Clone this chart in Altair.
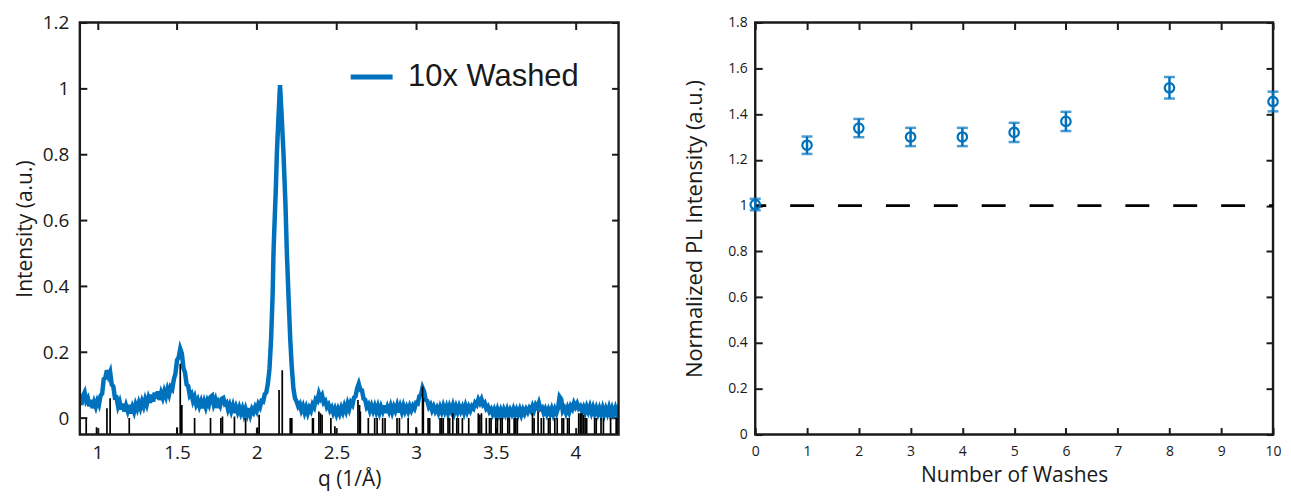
import altair as alt
import pandas as pd

BLUE = "#0072BD"
INK = "#1a1a1a"
FONT = "Open Sans"

# ---------------- Left panel: XRD pattern ----------------
q = [0.89, 0.90, 0.91, 0.92, 0.93, 0.94, 0.95, 0.96, 0.97, 0.98,
     0.99, 1.00, 1.01, 1.02, 1.03, 1.04, 1.05, 1.06, 1.07, 1.08,
     1.09, 1.10, 1.11, 1.12, 1.13, 1.14, 1.15, 1.16, 1.17, 1.18,
     1.19, 1.20, 1.21, 1.22, 1.23, 1.24, 1.25, 1.26, 1.27, 1.28,
     1.29, 1.30, 1.31, 1.32, 1.33, 1.34, 1.35, 1.36, 1.37, 1.38,
     1.39, 1.40, 1.41, 1.42, 1.43, 1.44, 1.45, 1.46, 1.47, 1.48,
     1.49, 1.50, 1.51, 1.52, 1.53, 1.54, 1.55, 1.56, 1.57, 1.58,
     1.59, 1.60, 1.61, 1.62, 1.63, 1.64, 1.65, 1.66, 1.67, 1.68,
     1.69, 1.70, 1.71, 1.72, 1.73, 1.74, 1.75, 1.76, 1.77, 1.78,
     1.79, 1.80, 1.81, 1.82, 1.83, 1.84, 1.85, 1.86, 1.87, 1.88,
     1.89, 1.90, 1.91, 1.92, 1.93, 1.94, 1.95, 1.96, 1.97, 1.98,
     1.99, 2.00, 2.01, 2.02, 2.03, 2.04, 2.05, 2.06,
     2.07, 2.08, 2.09, 2.10, 2.105, 2.11, 2.12, 2.126, 2.135, 2.146,
     2.155, 2.168, 2.18, 2.189, 2.20, 2.21, 2.219, 2.23, 2.24,
     2.25, 2.26, 2.27, 2.28, 2.29, 2.30, 2.31, 2.32, 2.33, 2.34,
     2.35, 2.36, 2.37, 2.38, 2.39, 2.40, 2.41, 2.42, 2.43, 2.44,
     2.45, 2.46, 2.47, 2.48, 2.49, 2.50, 2.51, 2.52, 2.53, 2.54,
     2.55, 2.56, 2.57, 2.58, 2.59, 2.60, 2.61, 2.62, 2.63, 2.64,
     2.65, 2.66, 2.67, 2.68, 2.69, 2.70, 2.71, 2.72, 2.73, 2.74,
     2.75, 2.76, 2.77, 2.78, 2.79, 2.80, 2.81, 2.82, 2.83, 2.84,
     2.85, 2.86, 2.87, 2.88, 2.89, 2.90, 2.91, 2.92, 2.93, 2.94,
     2.95, 2.96, 2.97, 2.98, 2.99, 3.00, 3.01, 3.02, 3.03, 3.04,
     3.05, 3.06, 3.07, 3.08, 3.09, 3.10, 3.11, 3.12, 3.13, 3.14,
     3.15, 3.16, 3.17, 3.18, 3.19, 3.20, 3.21, 3.22, 3.23, 3.24,
     3.25, 3.26, 3.27, 3.28, 3.29, 3.30, 3.31, 3.32, 3.33, 3.34,
     3.35, 3.36, 3.37, 3.38, 3.39, 3.40, 3.41, 3.42, 3.43, 3.44,
     3.45, 3.46, 3.47, 3.48, 3.49, 3.50, 3.51, 3.52, 3.53, 3.54,
     3.55, 3.56, 3.57, 3.58, 3.59, 3.60, 3.61, 3.62, 3.63, 3.64,
     3.65, 3.66, 3.67, 3.68, 3.69, 3.70, 3.71, 3.72, 3.73, 3.74,
     3.75, 3.76, 3.77, 3.78, 3.79, 3.80, 3.81, 3.82, 3.83, 3.84,
     3.85, 3.86, 3.87, 3.88, 3.89, 3.90, 3.91, 3.92, 3.93, 3.94,
     3.95, 3.96, 3.97, 3.98, 3.99, 4.00, 4.01, 4.02, 4.03, 4.04,
     4.05, 4.06, 4.07, 4.08, 4.09, 4.10, 4.11, 4.12, 4.13, 4.14,
     4.15, 4.16, 4.17, 4.18, 4.19, 4.20, 4.21, 4.22, 4.23, 4.24,
     4.25, 4.26, 4.27, 4.28]

intensity = [0.058, 0.040, 0.068, 0.078, 0.052, 0.060, 0.036, 0.055, 0.030, 0.048,
             0.034, 0.052, 0.041, 0.068, 0.074, 0.118, 0.122, 0.145, 0.128, 0.140,
             0.102, 0.096, 0.062, 0.063, 0.036, 0.049, 0.026, 0.044, 0.020, 0.038,
             0.022, 0.040, 0.014, 0.033, 0.019, 0.041, 0.028, 0.046, 0.031, 0.050,
             0.036, 0.056, 0.041, 0.061, 0.046, 0.071, 0.050, 0.077, 0.060, 0.081,
             0.055, 0.076, 0.062, 0.081, 0.066, 0.087, 0.072, 0.094, 0.088, 0.118,
             0.135, 0.176, 0.184, 0.210, 0.196, 0.152, 0.138, 0.102, 0.097, 0.068,
             0.074, 0.052, 0.064, 0.042, 0.054, 0.036, 0.050, 0.030, 0.049, 0.033,
             0.052, 0.041, 0.064, 0.068, 0.042, 0.055, 0.031, 0.048, 0.038, 0.058,
             0.061, 0.043, 0.047, 0.026, 0.039, 0.021, 0.037, 0.016, 0.033, 0.018,
             0.032, 0.015, 0.029, 0.011, 0.028, 0.012, 0.030, 0.010, 0.027, 0.018,
             0.033, 0.022, 0.042, 0.033, 0.052, 0.050, 0.072, 0.078,
             0.105, 0.150, 0.240, 0.380, 0.500, 0.570, 0.700, 0.800, 0.900, 1.010,
             0.930, 0.800, 0.650, 0.500, 0.360, 0.240, 0.160, 0.090, 0.060,
             0.050, 0.036, 0.043, 0.024, 0.036, 0.017, 0.032, 0.015, 0.031, 0.022,
             0.041, 0.033, 0.057, 0.052, 0.074, 0.060, 0.069, 0.047, 0.052, 0.034,
             0.041, 0.024, 0.032, 0.016, 0.028, 0.012, 0.027, 0.014, 0.031, 0.018,
             0.036, 0.022, 0.043, 0.028, 0.047, 0.040, 0.062, 0.066, 0.090, 0.104,
             0.086, 0.084, 0.059, 0.056, 0.034, 0.041, 0.023, 0.037, 0.022, 0.036,
             0.019, 0.035, 0.017, 0.034, 0.021, 0.038, 0.016, 0.033, 0.020, 0.036,
             0.018, 0.034, 0.022, 0.038, 0.017, 0.035, 0.019, 0.037, 0.021, 0.033,
             0.020, 0.036, 0.024, 0.037, 0.029, 0.046, 0.044, 0.066, 0.070, 0.092,
             0.080, 0.055, 0.052, 0.034, 0.041, 0.024, 0.035, 0.021, 0.031, 0.017,
             0.033, 0.019, 0.036, 0.020, 0.034, 0.016, 0.035, 0.022, 0.038, 0.018,
             0.034, 0.019, 0.035, 0.021, 0.033, 0.017, 0.036, 0.020, 0.034, 0.023,
             0.036, 0.030, 0.046, 0.040, 0.056, 0.046, 0.057, 0.041, 0.046, 0.029,
             0.035, 0.020, 0.027, 0.013, 0.025, 0.010, 0.026, 0.011, 0.024, 0.009,
             0.025, 0.012, 0.026, 0.010, 0.024, 0.013, 0.027, 0.011, 0.025, 0.012,
             0.026, 0.010, 0.025, 0.014, 0.027, 0.018, 0.030, 0.022, 0.036, 0.024,
             0.040, 0.032, 0.046, 0.028, 0.032, 0.016, 0.027, 0.013, 0.026, 0.014,
             0.028, 0.012, 0.027, 0.015, 0.030, 0.065, 0.058, 0.022, 0.030, 0.016,
             0.031, 0.018, 0.036, 0.028, 0.045, 0.034, 0.044, 0.030, 0.036, 0.022,
             0.033, 0.018, 0.034, 0.020, 0.035, 0.017, 0.032, 0.015, 0.030, 0.014,
             0.029, 0.013, 0.030, 0.012, 0.028, 0.014, 0.031, 0.012, 0.029, 0.015,
             0.030, 0.013, 0.028, 0.016]

# reference pattern sticks (position, top height)
stick_q = [0.93, 0.995, 1.06, 1.08, 1.20, 1.50, 1.52, 1.53, 1.61, 1.71,
           1.775, 1.785, 1.86, 1.93, 2.005, 2.015, 2.14, 2.16, 2.21, 2.22,
           2.35, 2.355, 2.39, 2.40, 2.41, 2.465, 2.49, 2.635, 2.645, 2.65,
           2.70, 2.74, 2.755, 2.79, 2.805, 2.88, 2.895, 2.95, 3.00, 3.04,
           3.045, 3.075, 3.085, 3.15, 3.16, 3.17, 3.20, 3.21, 3.23, 3.255,
           3.265, 3.29, 3.33, 3.39, 3.40, 3.41, 3.44, 3.46, 3.47, 3.50,
           3.51, 3.53, 3.54, 3.575, 3.585, 3.615, 3.625, 3.635, 3.73, 3.74,
           3.765, 3.785, 3.80, 3.83, 3.84, 3.87, 3.885, 3.915, 3.925, 3.95,
           3.96, 4.02, 4.03, 4.04, 4.05, 4.06, 4.07, 4.12, 4.13, 4.16,
           4.175, 4.22, 4.255, 4.265]
stick_top = [0.0, -0.028, 0.03, 0.06, 0.0, -0.028, 0.165, 0.04, 0.0, 0.0,
             0.0, 0.005, 0.005, 0.0, -0.028, 0.01, 0.085, 0.145, 0.0, 0.0,
             0.0, 0.0, 0.02, 0.015, 0.01, 0.0, -0.025, 0.055, 0.04, 0.02,
             0.0, 0.0, 0.0, 0.0, 0.0, 0.0, 0.0, 0.0, -0.027, 0.095,
             0.06, 0.0, 0.0, 0.0, 0.0, 0.0, 0.0, 0.0, 0.015, 0.0,
             0.0, 0.0, 0.0, 0.015, 0.01, 0.015, 0.0, 0.0, 0.0, 0.0,
             0.0, 0.0, 0.0, 0.0, 0.0, 0.0, 0.0, 0.0, 0.015, 0.0,
             0.02, 0.0, 0.0, 0.0, 0.0, 0.0, 0.0, 0.0, 0.0, 0.0,
             0.0, 0.015, 0.015, 0.015, 0.01, 0.0, 0.0, 0.0, 0.0, 0.0,
             0.0, 0.0, 0.0, 0.0]
STICK_BASE = -0.05

SERIES_NAME = "10x Washed"
q_ticks = [1, 1.5, 2, 2.5, 3, 3.5, 4]
int_ticks = [0, 0.2, 0.4, 0.6, 0.8, 1, 1.2]
Q_DOMAIN = [0.89, 4.27]
I_DOMAIN = [-0.05, 1.2]

# ---------------- Right panel: PL vs washes ----------------
washes = [0, 1, 2, 3, 4, 5, 6, 8, 10]
pl = [1.005, 1.264, 1.339, 1.300, 1.300, 1.320, 1.368, 1.515, 1.455]
pl_err = [0.025, 0.038, 0.040, 0.040, 0.040, 0.042, 0.042, 0.047, 0.043]
wash_ticks = [0, 1, 2, 3, 4, 5, 6, 7, 8, 9, 10]
pl_ticks = [0, 0.2, 0.4, 0.6, 0.8, 1, 1.2, 1.4, 1.6, 1.8]
W_DOMAIN = [0, 10]
PL_DOMAIN = [0, 1.8]
REF_LEVEL = 1.0

TICK = 7


def main_axis(orient, values, label_size, title, title_size, label_pad, title_pad):
    return alt.Axis(orient=orient, values=values, format="~r", title=title,
                    labelFont=FONT, labelFontSize=label_size, labelColor=INK,
                    titleFont=FONT, titleFontSize=title_size, titleFontWeight="normal",
                    titleColor=INK, domain=False, grid=False, ticks=True,
                    tickSize=TICK, tickWidth=2, tickColor=INK, offset=-TICK,
                    labelPadding=label_pad, titlePadding=title_pad, labelFlush=False,
                    labelOverlap=False)


def mirror_axis(orient, values):
    return alt.Axis(orient=orient, values=values, labels=False, title=None,
                    domain=False, grid=False, ticks=True, tickSize=TICK,
                    tickWidth=2, tickColor=INK, offset=-TICK)


def box(x_scale, y_scale, x_dom, y_dom):
    # MATLAB-style box drawn along the full axis domains
    frame_df = pd.DataFrame({"x0": [x_dom[0]], "x1": [x_dom[1]],
                             "y0": [y_dom[0]], "y1": [y_dom[1]]})
    return alt.Chart(frame_df).mark_rect(filled=False, stroke=INK, strokeWidth=2.4,
                                         fillOpacity=0).encode(
        x=alt.X("x0:Q", scale=x_scale, axis=None),
        x2="x1:Q",
        y=alt.Y("y0:Q", scale=y_scale, axis=None),
        y2="y1:Q",
    )


xrd = pd.DataFrame({"q": q, "I": intensity, "series": [SERIES_NAME] * len(q)})
sticks = pd.DataFrame({"q": stick_q, "top": stick_top})

xs = alt.Scale(domain=Q_DOMAIN, nice=False, zero=False)
ys = alt.Scale(domain=I_DOMAIN, nice=False, zero=False)

line = alt.Chart(xrd).mark_line(strokeWidth=4.5, clip=True).encode(
    x=alt.X("q:Q", scale=xs, axis=main_axis("bottom", q_ticks, 19, "q (1/Å)", 21, 9, 6)),
    y=alt.Y("I:Q", scale=ys, axis=main_axis("left", int_ticks, 19, "Intensity (a.u.)", 21, 11, 7)),
    color=alt.Color("series:N", scale=alt.Scale(range=[BLUE]),
                    legend=alt.Legend(title=None, orient="none", legendX=269, legendY=31,
                                      symbolType="stroke", symbolSize=1764,
                                      symbolStrokeWidth=5, labelFont="Liberation Sans",
                                      labelFontSize=31, labelColor=INK, labelOffset=13,
                                      labelLimit=400, padding=0)),
)

stk = alt.Chart(sticks).mark_rule(color="black", strokeWidth=1.7, clip=True).encode(
    x=alt.X("q:Q", scale=xs, axis=mirror_axis("top", q_ticks)),
    y=alt.Y("top:Q", scale=ys, axis=mirror_axis("right", int_ticks)),
    y2=alt.datum(STICK_BASE),
)

left = alt.layer(line, stk, box(xs, ys, Q_DOMAIN, I_DOMAIN)).resolve_axis(
    x="independent", y="independent").properties(width=540, height=413)

pl_df = pd.DataFrame({
    "w": washes, "pl": pl,
    "lo": [v - e for v, e in zip(pl, pl_err)],
    "hi": [v + e for v, e in zip(pl, pl_err)],
})
ref_df = pd.DataFrame({"x0": [W_DOMAIN[0]], "x1": [W_DOMAIN[1]], "y": [REF_LEVEL]})

wx = alt.Scale(domain=W_DOMAIN, nice=False, zero=False)
py = alt.Scale(domain=PL_DOMAIN, nice=False, zero=False)

ref = alt.Chart(ref_df).mark_rule(color="black", strokeWidth=2.8,
                                  strokeDash=[24, 24], strokeDashOffset=13).encode(
    x=alt.X("x0:Q", scale=wx, axis=None),
    x2="x1:Q",
    y=alt.Y("y:Q", scale=py, axis=None),
)

bars = alt.Chart(pl_df).mark_rule(color=BLUE, strokeWidth=2.5).encode(
    x=alt.X("w:Q", scale=wx, axis=mirror_axis("top", wash_ticks)),
    y=alt.Y("lo:Q", scale=py, axis=mirror_axis("right", pl_ticks)),
    y2="hi:Q",
)
cap_lo = alt.Chart(pl_df).mark_tick(color=BLUE, orient="horizontal", size=11, thickness=2.5).encode(
    x=alt.X("w:Q", scale=wx, axis=None),
    y=alt.Y("lo:Q", scale=py, axis=None),
)
cap_hi = alt.Chart(pl_df).mark_tick(color=BLUE, orient="horizontal", size=11, thickness=2.5).encode(
    x=alt.X("w:Q", scale=wx, axis=None),
    y=alt.Y("hi:Q", scale=py, axis=None),
)
pts = alt.Chart(pl_df).mark_point(shape="circle", filled=False, size=90, strokeWidth=2.2,
                                  color=BLUE, opacity=1).encode(
    x=alt.X("w:Q", scale=wx, axis=main_axis("bottom", wash_ticks, 14, "Number of Washes", 21, 10, 6)),
    y=alt.Y("pl:Q", scale=py, axis=main_axis("left", pl_ticks, 14, "Normalized PL Intensity (a.u.)", 22, 8, 21)),
)

right = alt.layer(box(wx, py, W_DOMAIN, PL_DOMAIN), ref, bars, cap_lo, cap_hi, pts).resolve_axis(
    x="independent", y="independent").properties(width=519, height=413)

chart = alt.hconcat(left, right, spacing=137, bounds="flush").properties(
    padding={"left": 6, "top": 5, "right": 0, "bottom": 4},
    background="white",
).configure_view(strokeWidth=0)

chart.save("out.html", embed_options={"renderer": "svg", "actions": False})
